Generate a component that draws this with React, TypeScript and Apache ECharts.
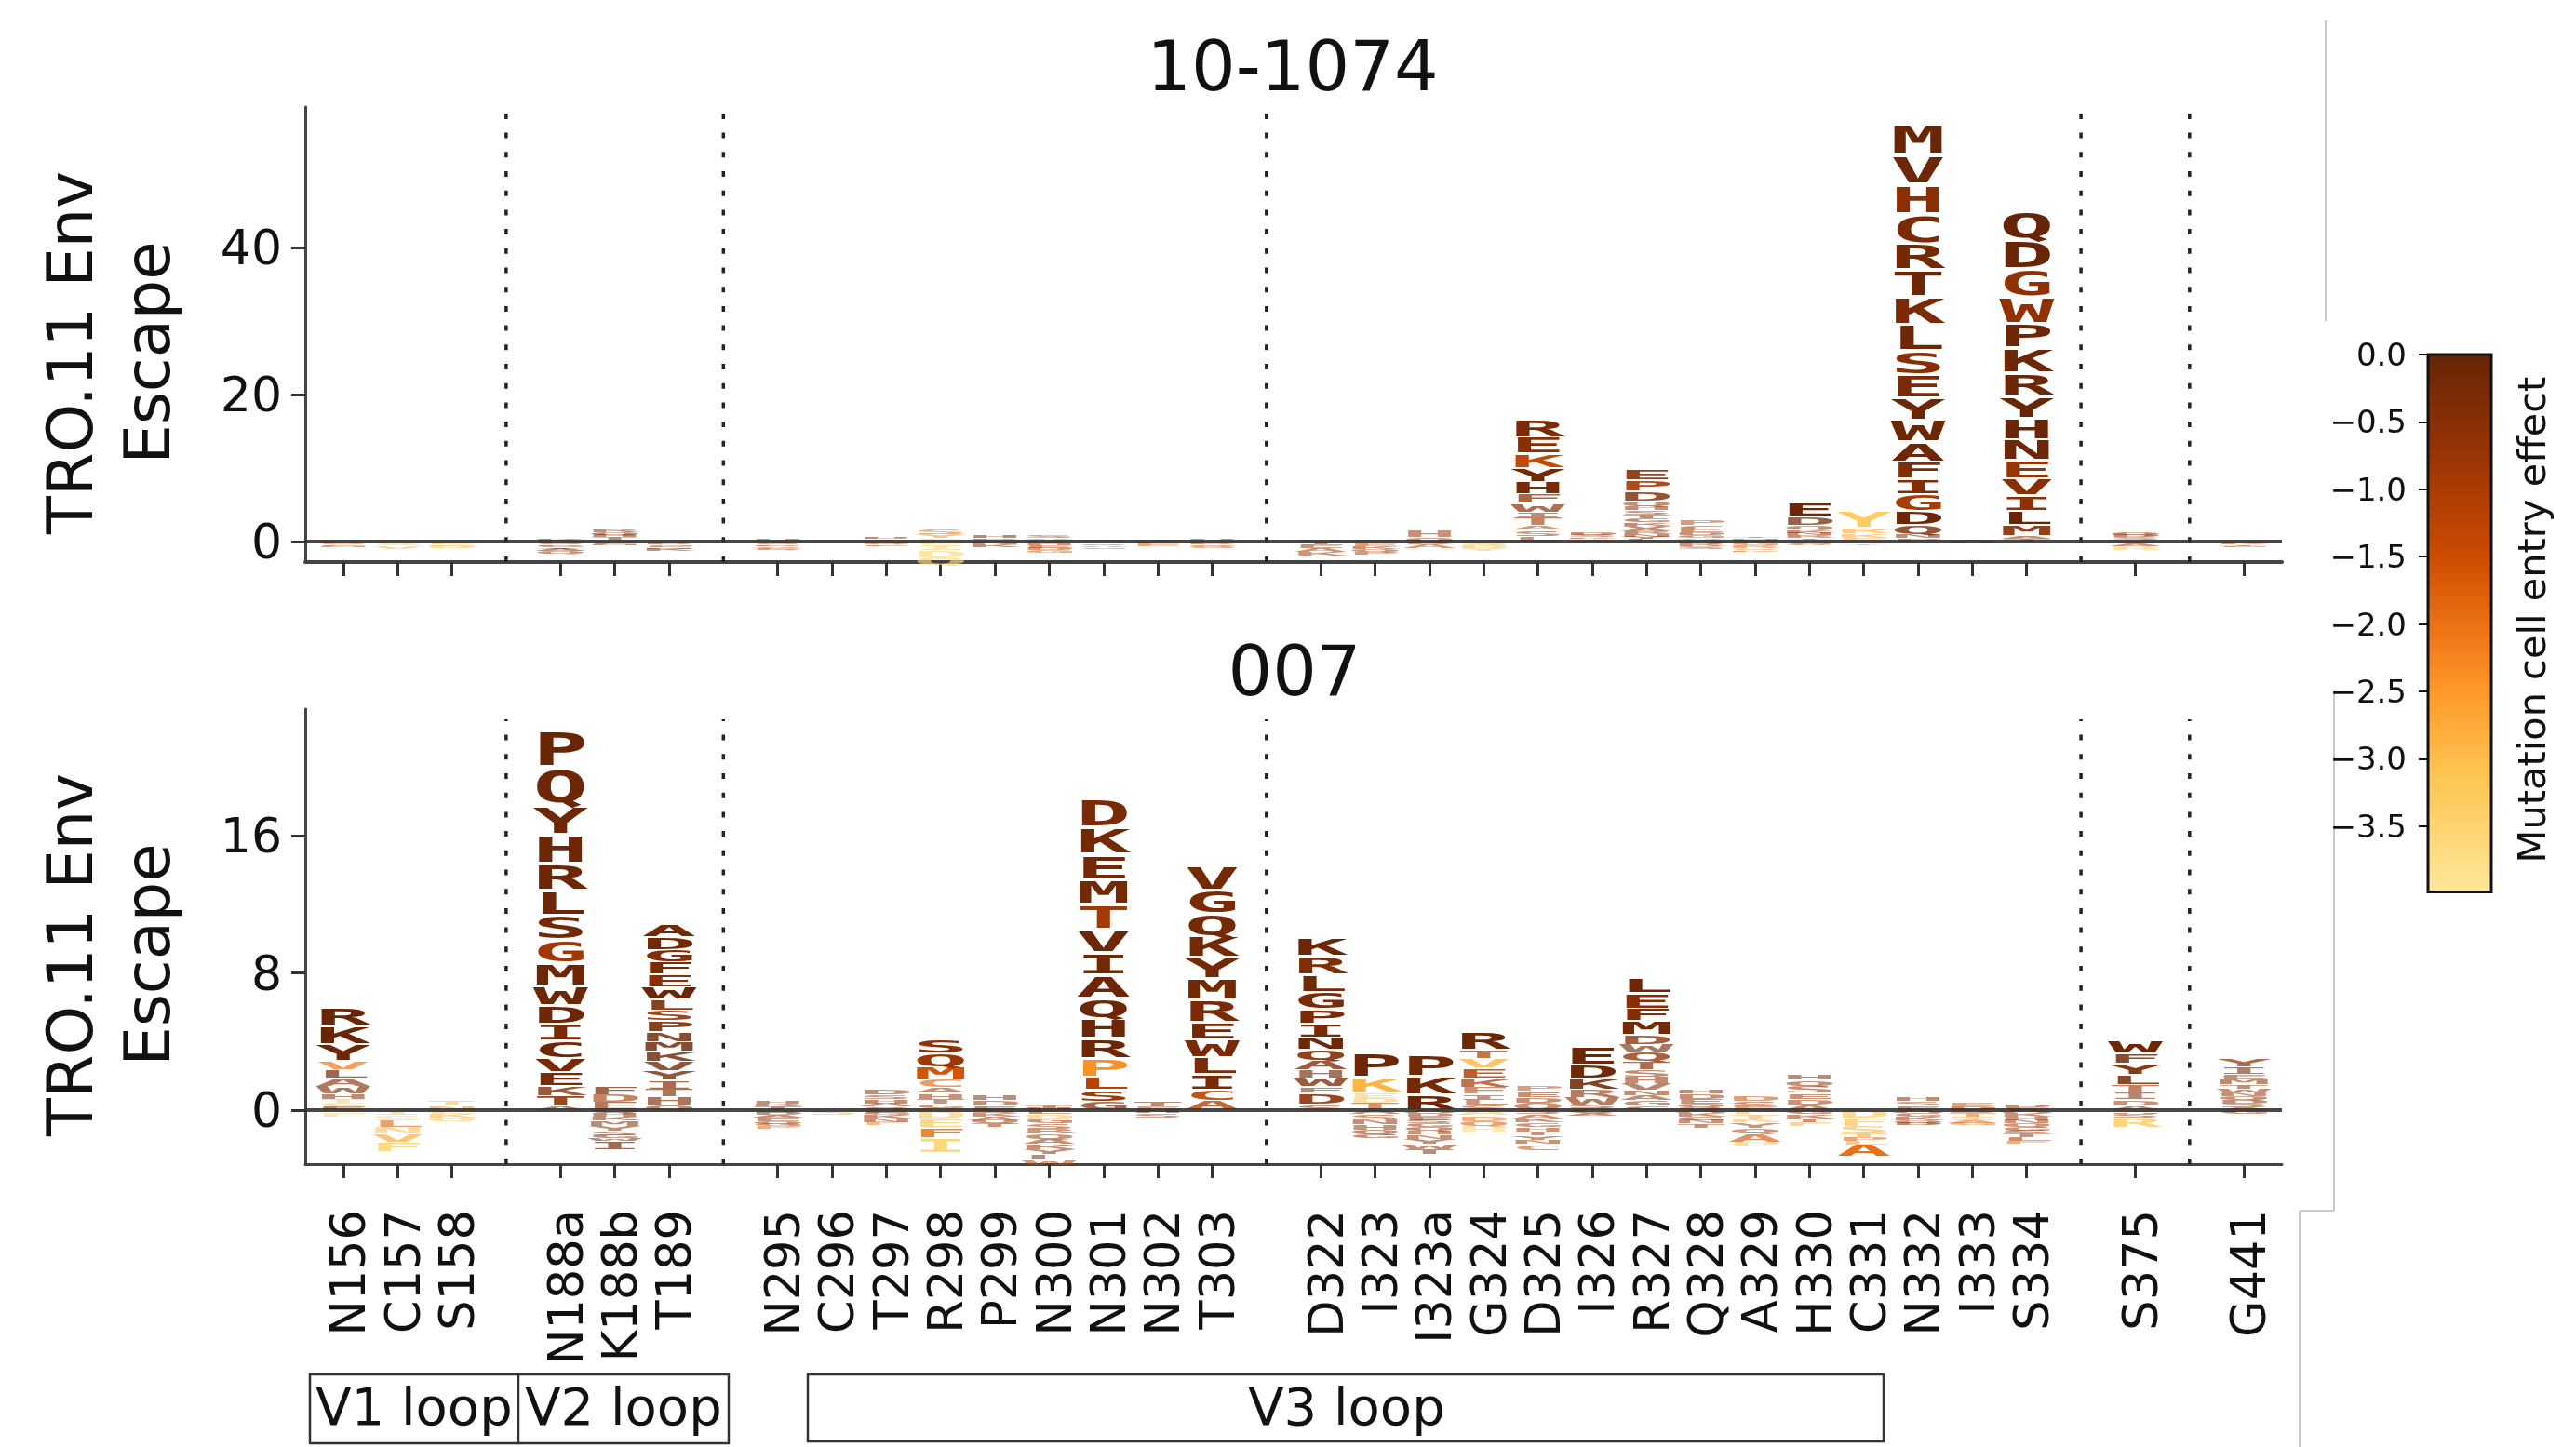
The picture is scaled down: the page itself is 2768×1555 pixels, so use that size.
import React, { useEffect, useRef } from "react";
import * as echarts from "echarts";

// Site labels by logo position; empty slots are the gaps that hold the dividers.
const siteLabels = ["N156","C157","S158","","N188a","K188b","T189","","N295","C296","T297","R298","P299","N300","N301","N302","T303","","D322","I323","I323a","G324","D325","I326","R327","Q328","A329","H330","C331","N332","I333","S334","","S375","","G441"];
const dividers = [3, 7, 17, 32, 34];

const ticksTop = [0, 20, 40];
const ticksBottom = [0, 8, 16];
const barTicks = [0, -0.5, -1, -1.5, -2, -2.5, -3, -3.5];

const effectStops = [0, -0.75, -1.5, -2, -2.5, -3.1, -3.99];
const colorStops = ["#662506", "#993404", "#cc4c02", "#ec7014", "#fe9929", "#fec44f", "#fee79b"];

type Site = [string, number[], number[]];

// letters top to bottom, escape (signed), mutation cell entry effect
const escape10_1074: Site[] = [
  ["KDSEN", [0.2,-0.2,-0.2,-0.2,-0.2], [-1,-1.4,-1.6,-1.2,-1.6]],
  ["TAGSV", [0.25,0.15,-0.3,-0.3,-0.4], [-2.8,-2.2,-2.9,-3,-3]],
  ["RKEQD", [0.1,-0.2,-0.2,-0.2,-0.3], [-3,-3,-3.1,-3,-3.2]],
  ["KESDGTAQ", [0.3,-0.2,-0.2,-0.2,-0.2,-0.2,-0.3,-0.4], [-0.4,-0.5,-0.5,-0.7,-0.6,-0.7,-0.5,-0.8]],
  ["RQHTSAEN", [0.35,0.4,0.3,0.3,0.25,-0.2,-0.15,-0.15], [-0.7,-0.5,-0.6,-0.4,-0.6,-0.7,-0.6,-0.8]],
  ["SADGENK", [0.2,-0.2,-0.2,-0.2,-0.2,-0.2,-0.3], [-0.6,-0.7,-0.7,-0.8,-0.8,-0.6,-0.9]],
  ["HKTSDAEQ", [0.2,0.2,-0.2,-0.25,-0.25,-0.2,-0.15,-0.15], [-0.8,-0.7,-1,-1,-1,-1.2,-1,-1]],
  ["SAK", [0.1,0.1,-0.15], [-2.5,-2.6,-2.6]],
  ["HDTSNQE", [0.15,0.15,0.15,0.15,-0.2,-0.25,-0.25], [-0.4,-0.5,-0.5,-0.6,-0.6,-0.8,-1.3]],
  ["SYFEIDQ", [0.7,0.5,0.4,-0.4,-0.8,-1,-1.1], [-1.9,-2.4,-3,-3.3,-3.4,-3.5,-3.6]],
  ["HDGNK", [0.3,0.25,0.25,-0.4,-0.4], [-0.3,-0.6,-0.6,-0.8,-0.7]],
  ["SAQKHEDG", [0.3,0.25,0.25,-0.3,-0.3,-0.3,-0.3,-0.3], [-0.7,-0.9,-0.8,-1,-1,-1.1,-1.4,-1.6]],
  ["THESAG", [0.15,0.1,-0.25,-0.25,-0.25,-0.25], [-0.4,-0.8,-0.9,-0.9,-1.2,-1.4]],
  ["TRKE", [0.1,0.1,-0.3,-0.4], [0,-1.5,-1.4,-1.8]],
  ["HEADSQG", [0.25,0.25,-0.2,-0.2,-0.2,-0.15,-0.15], [-0.8,-0.9,-0.9,-1,-1.1,-1.2,-1.6]],
  ["HSTEAK", [0.15,0.1,-0.4,-0.5,-0.5,-0.5], [-0.5,-0.6,-0.7,-0.8,-0.8,-1]],
  ["SATEKQP", [0.2,0.15,-0.3,-0.4,-0.35,-0.35,-0.4], [-0.6,-0.6,-2.9,-1.4,-1,-1,-1.2]],
  ["HQDA", [0.9,0.6,-0.4,-0.5], [-0.8,-0.9,-1.2,-1.4]],
  ["PKNSDY", [0.1,0.1,-0.3,-0.3,-0.3,-0.4], [-2.8,-3,-2.8,-2.6,-3,-3.2]],
  ["REKYHFWITASLD", [2.53,2.24,1.9,1.9,1.69,1.27,1.14,0.76,1.05,0.63,0.84,0.63,0.1], [-0.3,-0.5,-1.4,-0.2,-0.3,-0.8,-0.5,-0.5,-1,-1.1,-0.8,-1,-1]],
  ["DSKTE", [0.3,0.3,0.25,0.2,0.1], [-0.7,-0.8,-0.8,-0.8,-0.8]],
  ["EPDQHSTGKVARNYL", [1.48,1.48,1.35,0.68,0.6,0.6,0.5,0.5,0.45,0.4,0.4,0.4,0.35,0.3,0.3], [-0.5,-0.9,-0.4,-0.6,-0.7,-0.6,-0.6,-0.4,-0.5,-0.6,-0.5,-0.7,-0.6,-0.7,-0.7]],
  ["PCEDGAKQRS", [0.8,0.55,0.5,0.35,0.3,0.25,0.25,-0.3,-0.35,-0.35], [-1.3,-0.6,-0.8,-0.8,-0.8,-0.9,-0.9,-0.8,-1,-0.9]],
  ["TNADEGRSK", [0.25,0.2,0.15,0.1,-0.3,-0.3,-0.3,-0.25,-0.25], [-1.2,-0.9,-1.1,-1.1,-1.4,-1.6,-1.9,-2.2,-1.6]],
  ["EDQKNRTSAGV", [2,1.2,0.55,0.45,0.35,0.3,0.25,0.25,-0.2,-0.15,-0.15], [-0.1,-0.2,-0.6,-0.7,-0.7,-0.8,-0.8,-0.7,-0.6,-0.9,-0.9]],
  ["YRKEQT", [2.2,0.7,0.6,0.5,-0.25,-0.25], [-3.3,-2.6,-2.7,-2.9,-2.4,-2.4]],
  ["MVHCRTKLSEYWAFIGDQNP", [4.2,4.1,4,4,3.6,3.6,3.8,3.6,3.2,3.2,3,3,2.7,2.3,2.1,2.3,1.9,1.3,0.5,0.4], [-0.05,-0.1,-0.55,-0.3,-0.2,-0.1,-0.3,-0.1,-0.5,-0.3,-0.1,-0.1,-0.1,-0.4,-0.4,-1,-0.1,-0.2,-0.5,-0.5]],
  ["THG", [0.1,0.1,-0.1], [-0.2,-0.4,-0.4]],
  ["QDGWPKRYHNEVILMAT", [3.88,4.05,3.88,3.59,3.38,3.38,3.16,2.95,2.87,2.83,2.53,2.24,2.19,1.9,1.5,0.4,0.3], [0,-0.05,-0.6,-0.65,-0.1,-0.1,-0.1,-0.05,-0.05,-0.1,-0.75,-0.5,-0.6,-0.05,-0.5,-0.5,-0.5]],
  ["QDSTEAR", [0.35,0.35,0.3,0.25,-0.3,-0.4,-0.5], [-0.5,-0.6,-0.7,-0.9,-1,-1,-3.2]],
  ["DSKTE", [0.1,-0.2,-0.2,-0.2,-0.2], [-0.9,-1.4,-1.2,-1.2,-1.2]],
];

const escape007: Site[] = [
  ["RKYVLAWHTGEIF", [1.1,1.1,0.95,0.5,0.5,0.45,0.45,0.3,0.25,0.2,0.2,-0.12,-0.27], [-0.05,-0.05,-0.1,-2.1,-0.2,-0.5,-0.3,-0.4,-3.3,-3.2,-0.1,-3.3,-3.5]],
  ["ISLNVF", [-0.3,-0.3,-0.4,-0.4,-0.5,-0.55], [-3.2,-3.4,-1.7,-3,-2.8,-3.4]],
  ["TNEKQ", [0.3,0.23,-0.25,-0.2,-0.2], [-3,-2.4,-3.1,-2.8,-3.2]],
  ["PQYHRLSGMWDICVEKTA", [2.23,2.17,1.72,1.72,1.54,1.45,1.45,1.36,1.3,1.14,1.09,1,1,0.82,0.82,0.54,0.63,0.22], [-0.05,-0.1,-0.1,-0.1,-0.1,-0.1,-0.2,-0.85,-0.1,-0.1,-0.1,-0.3,-0.1,-0.3,-0.3,-0.3,-0.6,-0.4]],
  ["FDEQHKMYSGWI", [0.5,0.45,0.45,-0.2,-0.22,-0.2,-0.3,-0.3,-0.25,-0.2,-0.15,-0.5], [-0.2,-1,-0.5,-0.3,-0.5,-0.5,-0.4,-0.5,-0.6,-0.5,-0.5,-0.3]],
  ["ADGFEWLSPNMKVYITHQ", [0.72,0.72,0.72,0.72,0.72,0.72,0.63,0.63,0.63,0.58,0.58,0.58,0.55,0.55,0.5,0.47,0.47,0.3], [-0.2,-0.2,-0.4,-0.3,-0.5,-0.1,-0.3,-0.6,-0.3,-0.1,-0.1,-0.2,-0.2,-0.2,-0.5,-0.5,-0.5,-0.5]],
  ["HKTSDAEQGP", [0.15,0.15,0.2,-0.15,-0.15,-0.15,-0.2,-0.15,-0.15,-0.15], [-0.6,-0.6,-0.7,-0.8,-0.8,-0.7,-0.8,-0.8,-1.1,-1.9]],
  ["S", [-0.3], [-2.9]],
  ["DSHAQEGKNF", [0.3,0.25,0.25,0.2,0.18,-0.15,-0.15,-0.2,-0.2,-0.2], [-0.6,-0.7,-0.6,-0.9,-0.6,-0.8,-1,-0.8,-0.8,-2.2]],
  ["SQMCAHTGKDEFI", [0.85,0.8,0.7,0.45,0.35,0.35,0.3,0.25,0.1,-0.5,-0.5,-0.6,-0.9], [-0.6,-0.8,-1.6,-1.8,-0.8,-0.8,-0.9,-1,-1.1,-3.4,-3.2,-2,-3.6]],
  ["HDESKAQT", [0.35,0.3,0.25,-0.2,-0.2,-0.2,-0.2,-0.2], [-0.5,-0.7,-0.8,-0.8,-1,-0.8,-0.9,-1]],
  ["THEDGSRQAKYLW", [0.15,0.12,-0.25,-0.25,-0.3,-0.3,-0.3,-0.3,-0.3,-0.3,-0.3,-0.3,-0.3], [-0.6,-0.8,-0.8,-3,-0.9,-0.8,-1,-0.8,-0.7,-0.7,-0.6,-0.4,-1.4]],
  ["DKEMTVIAQHRPLSG", [1.72,1.6,1.49,1.45,1.45,1.36,1.27,1.36,1.18,1.18,1.18,1.09,0.72,0.69,0.49], [-0.3,-0.2,-0.2,-0.2,-0.9,-0.1,-0.2,-0.1,-0.1,-0.1,-0.1,-2.4,-1.2,-0.8,-0.3]],
  ["TEHS", [0.3,0.2,-0.2,-0.25], [-0.3,-1.6,-0.7,-0.8]],
  ["VGQKYMREWLICA", [1.5,1.41,1.3,1.21,1.27,1.2,1.34,1.01,1.03,1,0.9,0.63,0.54], [-0.2,-0.3,-0.2,-0.2,-0.2,-0.2,-0.3,-0.2,-0.3,-0.3,-0.3,-1.2,-1.1]],
  ["KRLGPINQAHWEDS", [1.09,1.09,1,1,0.82,0.82,0.72,0.63,0.54,0.45,0.54,0.36,0.63,0.36], [-0.1,-0.4,-0.2,-0.3,-0.3,-0.3,-0.1,-0.4,-0.3,-0.1,-0.3,-0.3,-0.6,-0.6]],
  ["PKEDTASNHQG", [1.45,0.9,0.3,0.3,0.4,-0.25,-0.3,-0.3,-0.3,-0.3,-0.2], [-0.1,-2.9,-3.2,-3.1,-1.2,-0.8,-0.9,-0.7,-0.9,-0.7,-0.6]],
  ["PKRADESGQHNYWT", [1.27,1.09,0.9,-0.2,-0.2,-0.2,-0.2,-0.2,-0.2,-0.25,-0.25,-0.3,-0.3,-0.3], [-0.2,-0.2,-0.1,-0.7,-0.8,-0.7,-0.8,-0.7,-0.7,-0.8,-0.7,-0.6,-0.7,-0.5]],
  ["RTVEKFILSADQH", [1.05,0.5,0.55,0.6,0.5,0.4,0.35,0.3,0.3,-0.3,-0.35,-0.3,-0.4], [-0.1,-1,-2.9,-1.2,-0.9,-1,-0.9,-1,-1.2,-3,-2,-1.6,-3.6]],
  ["PEDQSAKGHTYNC", [0.35,0.35,0.35,0.4,-0.25,-0.25,-0.25,-0.25,-0.25,-0.25,-0.25,-0.25,-0.36], [-1.4,-0.7,-0.7,-0.9,-0.8,-0.9,-0.9,-0.9,-0.9,-0.9,-0.9,-0.9,-1.4]],
  ["EDKRWSTQA", [1.09,0.82,0.63,0.45,0.45,0.2,0.1,-0.2,-0.15], [-0.1,-0.2,-0.3,-0.6,-0.6,-0.7,-0.7,-0.7,-0.8]],
  ["LEFMDWQTSHVNAGC", [0.9,0.9,0.72,0.82,0.54,0.45,0.54,0.5,0.4,0.4,0.4,0.3,0.3,0.3,0.25], [-0.1,-0.5,-0.4,-0.2,-0.5,-0.3,-0.6,-0.6,-0.7,-0.6,-0.4,-0.6,-0.5,-0.6,-0.6]],
  ["HDEQSAKGNT", [0.25,0.3,0.3,0.2,0.15,-0.2,-0.2,-0.2,-0.2,-0.25], [-0.4,-0.7,-0.9,-0.9,-0.9,-0.8,-0.9,-0.8,-0.9,-0.8]],
  ["DSEFTKYQAP", [0.3,0.3,0.2,-0.25,-0.25,-0.25,-0.3,-0.35,-0.45,-0.25], [-1.5,-0.8,-1.6,-2.9,-2.7,-2.9,-1,-1.1,-1.6,-3.1]],
  ["HQSEDAGKTF", [0.35,0.35,0.4,0.35,0.35,0.3,-0.25,-0.25,-0.25,-0.2], [-0.4,-0.7,-0.8,-0.9,-0.9,-0.8,-0.7,-0.8,-0.8,-2.8]],
  ["DFSTPLA", [-0.45,-0.5,-0.45,-0.2,-0.2,-0.2,-0.7], [-3.1,-3.2,-2.9,-2.5,-1.7,-2.6,-2.0]],
  ["HSEAGKQD", [0.25,0.25,0.26,-0.2,-0.2,-0.2,-0.15,-0.12], [-0.6,-0.9,-0.9,-0.9,-0.9,-0.7,-1,-0.4]],
  ["EDSTIAG", [0.2,0.2,-0.2,-0.2,-0.2,-0.15,-0.12], [-1.6,-0.9,-1.4,-1.9,-2.8,-1.9,-1.8]],
  ["DEAKHNQGSTLF", [0.15,0.15,-0.2,-0.2,-0.2,-0.2,-0.2,-0.2,-0.2,-0.2,-0.2,-0.15], [-0.7,-0.7,-0.8,-0.9,-0.9,-1,-1,-1,-0.8,-0.8,-0.8,-1.9]],
  ["WFYLTIDAKHSR", [0.75,0.6,0.65,0.6,0.45,0.4,0.35,0.25,-0.1,-0.1,-0.25,-0.55], [-0.1,-0.3,-0.3,-0.2,-0.8,-0.3,-0.9,-0.7,-0.8,-0.9,-0.9,-3.2]],
  ["YIEMTWNQDSAG", [0.5,0.42,0.28,0.3,0.28,0.22,0.22,0.22,0.22,0.2,0.14,-0.25], [-0.5,-0.2,-0.6,-0.4,-0.6,-0.6,-0.7,-0.7,-0.7,-0.7,-0.8,-0.8]],
];

const PANEL_TEXT = "DejaVu Sans";
const LETTER_FONT = "DejaVu Sans Mono";
const LETTER_SIZE = 98;
const CAP_HEIGHT = 0.729;
const LABEL_SHIFT = 0.1;

function effectColor(effect: number): string {
  for (let i = 1; i < effectStops.length; i++) {
    if (effect >= effectStops[i] || i === effectStops.length - 1) {
      const t = Math.min(1, (effectStops[i - 1] - effect) / (effectStops[i - 1] - effectStops[i]));
      const a = echarts.color.parse(colorStops[i - 1]);
      const b = echarts.color.parse(colorStops[i]);
      const c = [0, 1, 2].map((k) => Math.round(a[k] + (b[k] - a[k]) * t));
      return `rgb(${c[0]},${c[1]},${c[2]})`;
    }
  }
  return colorStops[0];
}

function buildRows(sites: Site[]) {
  const positions = siteLabels.map((s, i) => (s ? i : -1)).filter((i) => i >= 0);
  const rows: { value: number[]; letter: string }[] = [];
  sites.forEach(([letters, escape, effect], s) => {
    const x = positions[s];
    const order = letters.split("").map((_, i) => i);
    const ups = order.filter((i) => escape[i] > 0).reverse();
    const downs = order.filter((i) => escape[i] < 0);
    let top = 0;
    ups.forEach((i) => {
      rows.push({ value: [x, top, top + escape[i], effect[i]], letter: letters[i] });
      top += escape[i];
    });
    let low = 0;
    downs.forEach((i) => {
      rows.push({ value: [x, low, low + escape[i], effect[i]], letter: letters[i] });
      low += escape[i];
    });
  });
  return rows;
}

function logoSeries(sites: Site[], axisIndex: number) {
  const rows = buildRows(sites);
  return {
    type: "custom",
    xAxisIndex: axisIndex,
    yAxisIndex: axisIndex,
    silent: true,
    clip: false,
    z: 3,
    encode: { x: 0, y: [1, 2] },
    data: rows.map((r) => r.value),
    renderItem: (params: any, api: any) => {
      const x = api.value(0);
      const a = api.coord([x, api.value(1)]);
      const b = api.coord([x, api.value(2)]);
      const h = Math.abs(a[1] - b[1]) * 0.85;
      const sy = h / (CAP_HEIGHT * LETTER_SIZE);
      return {
        type: "text",
        x: a[0],
        y: (a[1] + b[1]) / 2 + 0.0185 * LETTER_SIZE * sy,
        scaleX: 1,
        scaleY: sy,
        silent: true,
        style: {
          text: rows[params.dataIndex].letter,
          fontFamily: LETTER_FONT,
          fontWeight: "bold",
          fontSize: LETTER_SIZE,
          fill: effectColor(api.value(3)),
          opacity: Math.max(0.55, Math.min(1, h / 11)),
          textAlign: "center",
          textVerticalAlign: "middle",
        },
      };
    },
  };
}

function zeroSeries(axisIndex: number, min: number, max: number) {
  return {
    type: "line",
    xAxisIndex: axisIndex,
    yAxisIndex: axisIndex,
    silent: true,
    symbol: "none",
    z: 5,
    lineStyle: { color: "#333", width: 4, opacity: 0.9 },
    data: [[min, 0], [max, 0]],
  };
}

function dividerSeries(axisIndex: number, low: number, high: number) {
  return dividers.map((x) => ({
    type: "line",
    xAxisIndex: axisIndex,
    yAxisIndex: axisIndex,
    silent: true,
    symbol: "none",
    z: 4,
    lineStyle: { color: "#222", width: 3.5, type: [6, 14.7] },
    data: [[x, low], [x, high]],
  }));
}

const X_MIN = -0.7;
const X_MAX = 35.7;

function xAxis(gridIndex: number, labels: boolean) {
  const ticks = siteLabels.map((s, i) => (s ? i : -1)).filter((i) => i >= 0);
  return {
    type: "value",
    gridIndex,
    min: X_MIN,
    max: X_MAX,
    splitLine: { show: false },
    axisLine: { onZero: false, lineStyle: { color: "#444", width: labels ? 3 : 4 } },
    axisTick: { customValues: ticks, length: 15, lineStyle: { color: "#333", width: 3 } },
    axisLabel: {
      show: labels,
      customValues: ticks.map((t) => t + LABEL_SHIFT),
      rotate: 90,
      margin: 49,
      fontSize: 51,
      fontFamily: PANEL_TEXT,
      color: "#111",
      formatter: (v: number) => siteLabels[Math.round(v)],
    },
  };
}

function yAxis(gridIndex: number, min: number, max: number, ticks: number[]) {
  return {
    type: "value",
    gridIndex,
    min,
    max,
    splitLine: { show: false },
    axisLine: { onZero: false, lineStyle: { color: "#444", width: 3 } },
    axisTick: { customValues: ticks, length: 15, lineStyle: { color: "#333", width: 3 } },
    axisLabel: { customValues: ticks, margin: 25, fontSize: 52, fontFamily: PANEL_TEXT, color: "#111" },
  };
}

function loopBox(label: string, left: number, right: number, top: number, bottom: number, textX: number) {
  return [
    { type: "rect", shape: { x: left, y: top, width: right - left, height: bottom - top }, style: { fill: "#fff", stroke: "#333", lineWidth: 2.5 } },
    { type: "text", x: textX, y: 1511, style: { text: label, fontFamily: PANEL_TEXT, fontSize: 56, fill: "#111", textAlign: "center", textVerticalAlign: "middle" } },
  ];
}

function frameLine(x1: number, y1: number, x2: number, y2: number) {
  return { type: "line", shape: { x1, y1, x2, y2 }, style: { stroke: "#c9c9c9", lineWidth: 2 } };
}

export default function App() {
  const ref = useRef<HTMLDivElement>(null);
  useEffect(() => {
    document.body.style.margin = "0";
    const chart = echarts.init(ref.current!, undefined, { renderer: "svg" });
    const topMin = -2.8, topMax = 59.1, bottomMin = -3.15, bottomMax = 23.4;
    chart.setOption({
      animation: false,
      backgroundColor: "#fff",
      title: [
        { text: "10-1074", left: 1384, top: 28, textAlign: "center", textStyle: { fontSize: 75, fontWeight: "normal", fontFamily: PANEL_TEXT, color: "#111" } },
        { text: "007", left: 1386, top: 678, textAlign: "center", textStyle: { fontSize: 75, fontWeight: "normal", fontFamily: PANEL_TEXT, color: "#111" } },
      ],
      grid: [
        { left: 328, top: 115, width: 2124, height: 489 },
        { left: 328, top: 762, width: 2124, height: 489 },
        { left: 2609, top: 381, width: 68, height: 579 },
      ],
      xAxis: [
        xAxis(0, false),
        xAxis(1, true),
        { type: "value", gridIndex: 2, min: 0, max: 1, show: false },
      ],
      yAxis: [
        yAxis(0, topMin, topMax, ticksTop),
        yAxis(1, bottomMin, bottomMax, ticksBottom),
        {
          type: "value",
          gridIndex: 2,
          min: -4,
          max: 0,
          splitLine: { show: false },
          axisLine: { show: false },
          axisTick: { customValues: barTicks, length: 10, lineStyle: { color: "#111", width: 2 } },
          axisLabel: {
            customValues: barTicks,
            margin: 23,
            fontSize: 34,
            fontFamily: PANEL_TEXT,
            color: "#111",
            formatter: (v: number) => v.toFixed(1).replace("-", "\u2212"),
          },
        },
      ],
      series: [
        logoSeries(escape10_1074, 0),
        logoSeries(escape007, 1),
        zeroSeries(0, X_MIN, X_MAX),
        zeroSeries(1, X_MIN, X_MAX),
        ...dividerSeries(0, topMin, 58.3),
        ...dividerSeries(1, bottomMin, 22.8),
        {
          type: "custom",
          xAxisIndex: 2,
          yAxisIndex: 2,
          silent: true,
          encode: { x: [0, 1], y: [2, 3] },
          data: [[0, 1, -3.99, 0]],
          renderItem: (_p: any, api: any) => {
            const a = api.coord([api.value(0), api.value(3)]);
            const b = api.coord([api.value(1), api.value(2)]);
            return {
              type: "rect",
              shape: { x: a[0], y: a[1], width: b[0] - a[0], height: b[1] - a[1] },
              style: {
                fill: new echarts.graphic.LinearGradient(
                  0, 0, 0, 1,
                  effectStops.map((e, i) => ({ offset: -e / 3.99, color: colorStops[i] }))
                ),
                stroke: "#111",
                lineWidth: 3,
              },
            };
          },
        },
      ],
      graphic: [
        { type: "text", x: 117, y: 379, rotation: Math.PI / 2, style: { text: "TRO.11 Env\nEscape", lineHeight: 83, fontFamily: PANEL_TEXT, fontSize: 67, fill: "#111", textAlign: "center", textVerticalAlign: "middle" } },
        { type: "text", x: 117, y: 1026, rotation: Math.PI / 2, style: { text: "TRO.11 Env\nEscape", lineHeight: 83, fontFamily: PANEL_TEXT, fontSize: 67, fill: "#111", textAlign: "center", textVerticalAlign: "middle" } },
        { type: "text", x: 2720, y: 666, rotation: Math.PI / 2, style: { text: "Mutation cell entry effect", fontFamily: PANEL_TEXT, fontSize: 41.5, fill: "#111", textAlign: "center", textVerticalAlign: "middle" } },
        ...loopBox("V1 loop", 333, 557, 1477, 1551, 445),
        ...loopBox("V2 loop", 557, 783, 1477, 1551, 670),
        ...loopBox("V3 loop", 868, 2024, 1477, 1549, 1447),
        frameLine(2499, 22, 2499, 345),
        frameLine(2508, 745, 2508, 1301),
        frameLine(2471, 1301, 2508, 1301),
        frameLine(2471, 1301, 2471, 1555),
      ],
    });
    return () => chart.dispose();
  }, []);
  return <div ref={ref} style={{ width: 2768, height: 1555, overflow: "hidden", filter: "blur(0.7px)" }} />;
}
